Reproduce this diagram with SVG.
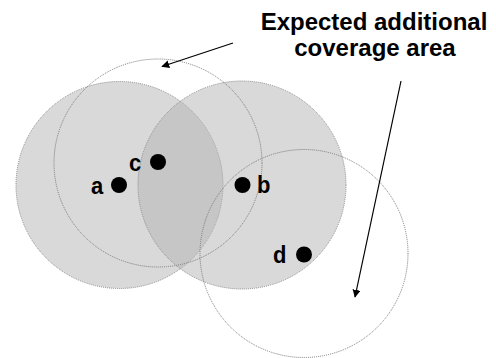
<svg xmlns="http://www.w3.org/2000/svg" width="496" height="358" viewBox="0 0 496 358">
<defs>
<style>
.zone{fill:#b4b4b4;fill-opacity:0.5;stroke:#8a8a8a;stroke-width:1;stroke-dasharray:1 1}
.ring{fill:none;stroke:#7a7a7a;stroke-width:1;stroke-dasharray:1 1}
.dot{fill:#000}
.lbl{font-family:"Liberation Sans",Arial,sans-serif;font-weight:bold;font-size:22px;fill:#000}
.ttl{font-family:"Liberation Sans",Arial,sans-serif;font-weight:bold;font-size:24px;fill:#000;text-anchor:middle}
.arr{stroke:#000;stroke-width:1.2;fill:none}
</style>
<marker id="ah" viewBox="0 0 10 10" refX="9" refY="5" markerWidth="8" markerHeight="8" markerUnits="userSpaceOnUse" orient="auto">
<path d="M0,0 L10,5 L0,10 z" fill="#000"/>
</marker>
</defs>
<rect width="496" height="358" fill="#fff"/>
<g id="zone-a"><circle class="zone" cx="119.5" cy="185" r="103.5"/></g>
<g id="zone-b"><circle class="zone" cx="242" cy="185" r="104"/></g>
<g id="zone-c"><circle class="ring" cx="158" cy="163" r="104"/></g>
<g id="zone-d"><circle class="ring" cx="304" cy="253.5" r="104"/></g>
<g id="connectors">
<line class="arr" x1="233" y1="43" x2="162" y2="66.5" marker-end="url(#ah)"/>
<line class="arr" x1="401" y1="81" x2="355" y2="297" marker-end="url(#ah)"/>
</g>
<g id="node-a"><circle class="dot" cx="119" cy="185" r="8"/><text class="lbl" transform="translate(91,193.5) scale(1,1.12)">a</text></g>
<g id="node-c"><circle class="dot" cx="158" cy="162" r="8"/><text class="lbl" transform="translate(129,171) scale(1,1.12)">c</text></g>
<g id="node-b"><circle class="dot" cx="242.5" cy="185" r="8"/><text class="lbl" transform="translate(257,193) scale(1,1.12)">b</text></g>
<g id="node-d"><circle class="dot" cx="304" cy="254.5" r="8"/><text class="lbl" transform="translate(273,262.5) scale(1,1.12)">d</text></g>
<g id="title">
<text class="ttl" x="374" y="29.5">Expected additional</text>
<text class="ttl" x="375" y="55.5">coverage area</text>
</g>
</svg>
